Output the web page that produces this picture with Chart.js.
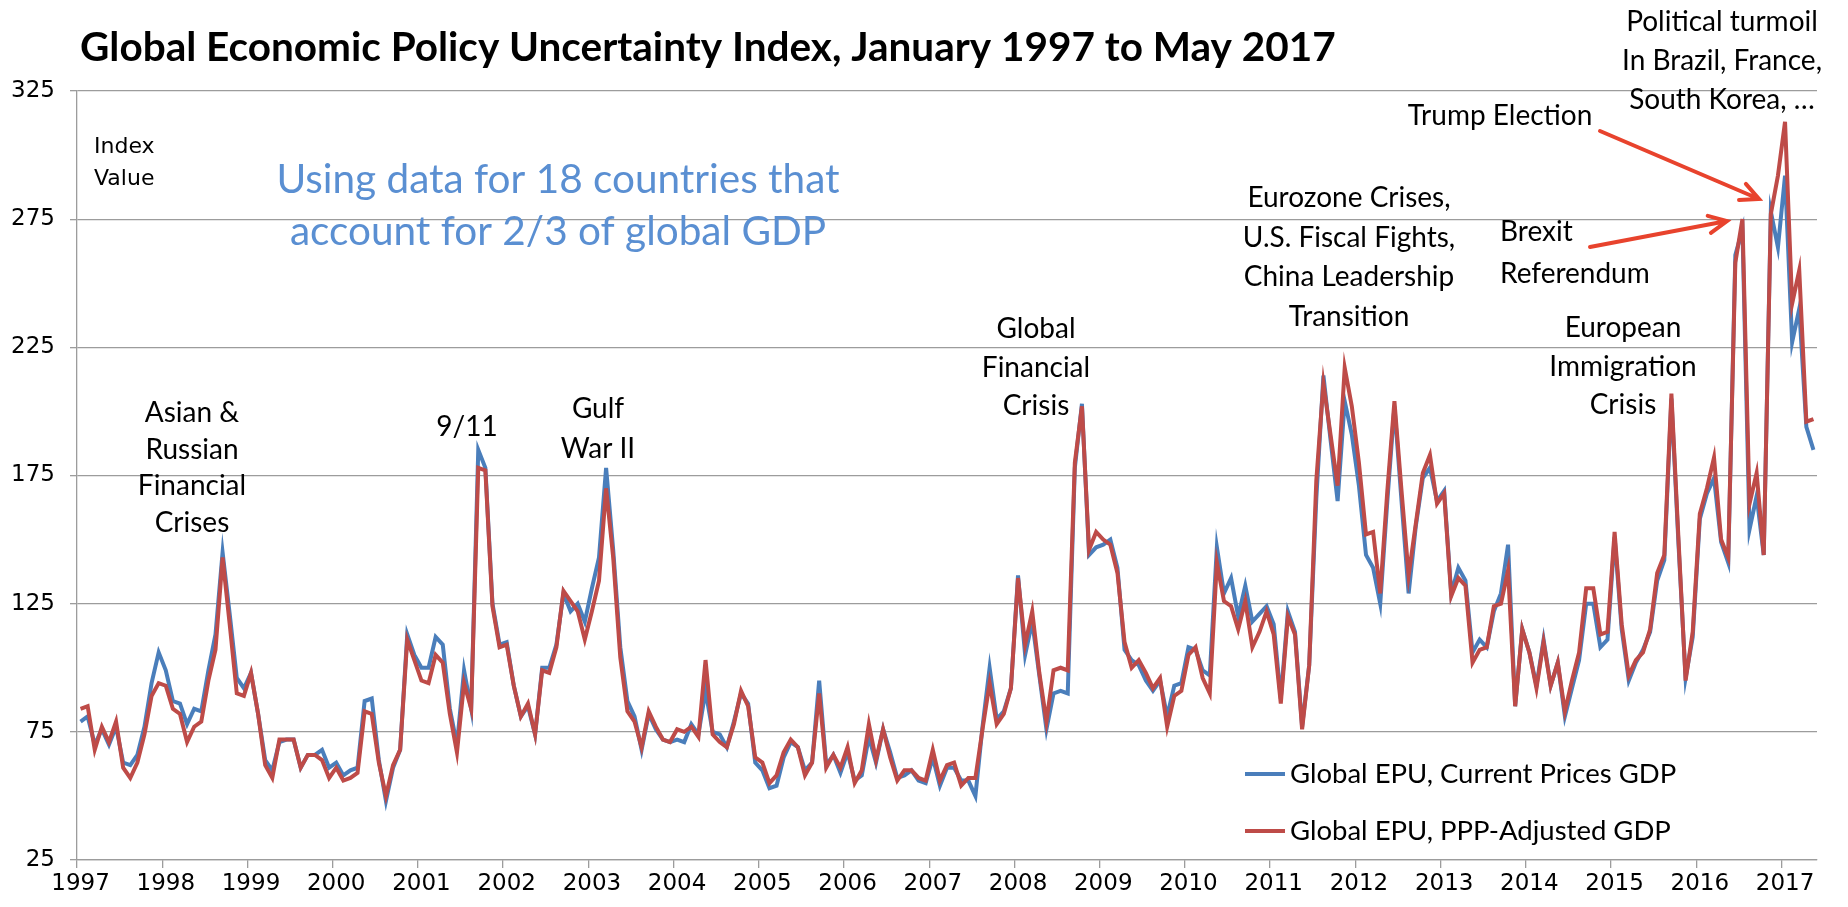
<!DOCTYPE html>
<html>
<head>
<meta charset="utf-8">
<title>Global Economic Policy Uncertainty Index</title>
<script src="https://cdn.jsdelivr.net/npm/chart.js@4.4.1/dist/chart.umd.min.js"></script>
<style>
    html, body { margin: 0; padding: 0; background: #fff; }
    #epuChart { display: block; width: 1848px; height: 907px; }
</style>
</head>
<body>
<canvas id="epuChart" width="1848" height="907"></canvas>
<script>
// Tick labels and categories
const years = ['1997', '1998', '1999', '2000', '2001', '2002', '2003', '2004', '2005', '2006',
    '2007', '2008', '2009', '2010', '2011', '2012', '2013', '2014', '2015', '2016', '2017'];
const monthNames = ['Jan', 'Feb', 'Mar', 'Apr', 'May', 'Jun', 'Jul', 'Aug', 'Sep', 'Oct', 'Nov', 'Dec'];
const monthsInLastYear = 5; // data runs to May 2017
const yTicks = [25, 75, 125, 175, 225, 275, 325];

// Global EPU, current prices GDP weights (blue), one row per year
const currentPricesGdp = [
    79, 81, 70, 76, 70, 77, 63, 62, 66, 77, 94, 106,
    99, 87, 86, 78, 84, 83, 99, 113, 145, 121, 96, 92,
    98, 82, 64, 60, 71, 72, 72, 61, 66, 66, 68, 61,
    63, 58, 60, 61, 87, 88, 64, 48, 61, 68, 113, 105,
    100, 100, 112, 109, 84, 70, 99, 84, 185, 178, 125, 109,
    110, 93, 81, 85, 74, 100, 100, 109, 129, 122, 125, 118,
    131, 143, 178, 146, 108, 87, 81, 68, 82, 76, 72, 71,
    72, 71, 78, 74, 91, 75, 74, 69, 79, 90, 86, 63,
    60, 53, 54, 65, 71, 69, 60, 63, 95, 62, 66, 59,
    67, 56, 58, 73, 63, 76, 67, 57, 58, 60, 56, 55,
    65, 54, 61, 61, 56, 56, 50, 77, 100, 80, 83, 92,
    136, 105, 118, 97, 76, 90, 91, 90, 178, 203, 144, 147,
    148, 150, 139, 107, 103, 101, 95, 91, 95, 81, 93, 94,
    108, 107, 99, 97, 147, 129, 135, 120, 132, 118, 121, 124,
    117, 88, 122, 114, 77, 101, 166, 214, 189, 165, 204, 191,
    171, 144, 139, 125, 165, 202, 165, 129, 155, 174, 178, 165,
    169, 129, 139, 134, 106, 111, 108, 122, 129, 148, 85, 115,
    106, 93, 111, 93, 102, 81, 92, 103, 125, 125, 108, 111,
    151, 115, 95, 102, 107, 114, 134, 142, 205, 148, 96, 112,
    158, 168, 174, 149, 141, 261, 271, 154, 167, 144, 278, 264,
    292, 227, 240, 194, 185,
];

// Global EPU, PPP-adjusted GDP weights (red)
const pppAdjustedGdp = [
    84, 85, 68, 77, 71, 79, 61, 57, 63, 74, 89, 94,
    93, 84, 82, 71, 77, 79, 95, 107, 143, 117, 90, 89,
    98, 82, 62, 57, 72, 72, 72, 61, 66, 66, 64, 57,
    61, 56, 57, 59, 83, 82, 63, 50, 62, 68, 111, 103,
    95, 94, 105, 102, 82, 67, 94, 84, 178, 177, 124, 108,
    109, 93, 81, 86, 74, 99, 98, 108, 130, 126, 122, 111,
    122, 134, 170, 143, 104, 83, 79, 69, 83, 77, 72, 71,
    76, 75, 77, 73, 103, 74, 71, 69, 78, 91, 85, 65,
    63, 55, 58, 67, 72, 69, 58, 63, 90, 61, 66, 61,
    69, 55, 60, 78, 64, 76, 65, 56, 60, 60, 57, 56,
    68, 56, 62, 63, 54, 57, 57, 76, 94, 78, 82, 92,
    135, 109, 122, 98, 79, 99, 100, 99, 180, 202, 146, 153,
    150, 148, 137, 110, 100, 103, 98, 92, 96, 77, 89, 91,
    105, 108, 96, 90, 141, 126, 124, 115, 126, 108, 114, 122,
    113, 86, 120, 113, 76, 101, 173, 211, 191, 171, 217, 202,
    180, 152, 153, 129, 169, 204, 169, 136, 156, 176, 183, 164,
    168, 128, 135, 132, 102, 107, 108, 124, 125, 138, 85, 115,
    106, 92, 110, 93, 102, 83, 95, 106, 131, 131, 113, 114,
    153, 117, 97, 103, 106, 115, 137, 144, 207, 150, 95, 114,
    160, 170, 182, 150, 143, 258, 275, 164, 176, 144, 277, 292,
    313, 242, 255, 196, 197,
];

const monthLabels = [];
years.forEach((year, y) => {
    const count = y === years.length - 1 ? monthsInLastYear : 12;
    for (let m = 0; m < count; m++) {
        monthLabels.push(monthNames[m] + ' ' + year);
    }
});

const AXIS_GREY = '#9c9c9c';
const LABEL_FONT = 'Lato, "Open Sans", sans-serif';

// axis tick labels use the chart defaults
Chart.defaults.font.family = '"DejaVu Sans", Verdana, sans-serif';
Chart.defaults.font.size = 23;
Chart.defaults.color = '#000';

function drawLines(ctx, lines, x, y, lineHeight, align) {
    ctx.textAlign = align;
    lines.forEach((line, i) => ctx.fillText(line, x, y + i * lineHeight));
}

function drawArrow(ctx, x1, y1, x2, y2) {
    const angle = Math.atan2(y2 - y1, x2 - x1);
    const head = 20;
    ctx.beginPath();
    ctx.moveTo(x1, y1);
    ctx.lineTo(x2, y2);
    ctx.moveTo(x2 - head * Math.cos(angle - 0.45), y2 - head * Math.sin(angle - 0.45));
    ctx.lineTo(x2, y2);
    ctx.lineTo(x2 - head * Math.cos(angle + 0.45), y2 - head * Math.sin(angle + 0.45));
    ctx.stroke();
}

const annotationPlugin = {
    id: 'epuAnnotations',
    afterDraw(chart) {
        const ctx = chart.ctx;
        ctx.save();

        // title
        ctx.fillStyle = '#000';
        ctx.textBaseline = 'alphabetic';
        ctx.textAlign = 'left';
        ctx.font = 'bold 40.5px ' + LABEL_FONT;
        ctx.fillText('Global Economic Policy Uncertainty Index, January 1997 to May 2017', 80, 61);

        ctx.textBaseline = 'middle';

        // axis caption
        ctx.font = '22px "DejaVu Sans"';
        drawLines(ctx, ['Index', 'Value'], 94, 147, 32, 'left');

        // subtitle note
        ctx.fillStyle = '#5a8fd2';
        ctx.font = '40.5px ' + LABEL_FONT;
        drawLines(ctx, ['Using data for 18 countries that', 'account for 2/3 of global GDP'], 558, 180, 52, 'center');

        // event labels
        ctx.fillStyle = '#000';
        ctx.font = '28px ' + LABEL_FONT;
        drawLines(ctx, ['Asian &', 'Russian', 'Financial', 'Crises'], 192, 413, 36.5, 'center');
        drawLines(ctx, ['9/11'], 467, 427, 37, 'center');
        drawLines(ctx, ['Gulf', 'War II'], 598, 409, 40, 'center');
        drawLines(ctx, ['Global', 'Financial', 'Crisis'], 1036, 329, 38.5, 'center');
        drawLines(ctx, ['Eurozone Crises,', 'U.S. Fiscal Fights,', 'China Leadership', 'Transition'], 1349, 198, 39.5, 'center');
        drawLines(ctx, ['European', 'Immigration', 'Crisis'], 1623, 328, 38.7, 'center');
        drawLines(ctx, ['Trump Election'], 1500, 116, 37, 'center');
        drawLines(ctx, ['Brexit', 'Referendum'], 1500, 232, 41.5, 'left');
        drawLines(ctx, ['Political turmoil', 'In Brazil, France,', 'South Korea, \u2026'], 1722, 22, 39, 'center');

        // arrows
        ctx.strokeStyle = '#e8432d';
        ctx.lineWidth = 4;
        ctx.lineCap = 'round';
        drawArrow(ctx, 1600, 131, 1759, 199);
        drawArrow(ctx, 1590, 247, 1727, 221);

        // legend
        const legendItems = chart.data.datasets.map(ds => ({ text: ds.label, color: ds.borderColor }));
        ctx.font = '27.5px ' + LABEL_FONT;
        ctx.textAlign = 'left';
        legendItems.forEach((item, i) => {
            const y = 774 + i * 57;
            ctx.strokeStyle = item.color;
            ctx.lineWidth = 4;
            ctx.lineCap = 'butt';
            ctx.beginPath();
            ctx.moveTo(1245, y);
            ctx.lineTo(1285, y);
            ctx.stroke();
            ctx.fillStyle = '#000';
            ctx.fillText(item.text, 1290, y);
        });

        ctx.restore();
    },
};

new Chart(document.getElementById('epuChart'), {
    type: 'line',
    data: {
        labels: monthLabels,
        datasets: [
            {
                label: 'Global EPU, Current Prices GDP',
                data: currentPricesGdp,
                borderColor: '#4a7ebb',
                borderWidth: 4,
                pointRadius: 0,
                tension: 0,
                order: 2,
            },
            {
                label: 'Global EPU, PPP-Adjusted GDP',
                data: pppAdjustedGdp,
                borderColor: '#be4b48',
                borderWidth: 4,
                pointRadius: 0,
                tension: 0,
                order: 1,
            },
        ],
    },
    options: {
        responsive: false,
        animation: false,
        layout: {
            padding: { top: 91, right: 31, left: 0, bottom: 0 },
        },
        plugins: {
            legend: { display: false },
            tooltip: { enabled: false },
        },
        scales: {
            x: {
                type: 'category',
                offset: true,
                grid: {
                    offset: true,
                    drawOnChartArea: false,
                    tickLength: 8,
                    lineWidth: 1.3,
                    color: context => (context.index % 12 === 0 ? AXIS_GREY : 'rgba(0,0,0,0)'),
                },
                border: { display: true, color: AXIS_GREY, width: 1.3 },
                ticks: {
                    autoSkip: false,
                    maxRotation: 0,
                    minRotation: 0,
                    padding: 2,
                    callback: (value, index) => (index % 12 === 0 ? years[index / 12] : ''),
                },
                afterFit: scale => {
                    scale.height = 47;
                },
            },
            y: {
                min: yTicks[0],
                max: yTicks[yTicks.length - 1],
                afterBuildTicks: scale => {
                    scale.ticks = yTicks.map(value => ({ value }));
                },
                grid: {
                    color: AXIS_GREY,
                    lineWidth: 1.3,
                    tickLength: 7,
                },
                border: { display: true, color: AXIS_GREY, width: 1.3 },
                ticks: {
                    padding: 15,
                },
                afterFit: scale => {
                    scale.width = 77;
                },
            },
        },
    },
    plugins: [annotationPlugin],
});
</script>
</body>
</html>
